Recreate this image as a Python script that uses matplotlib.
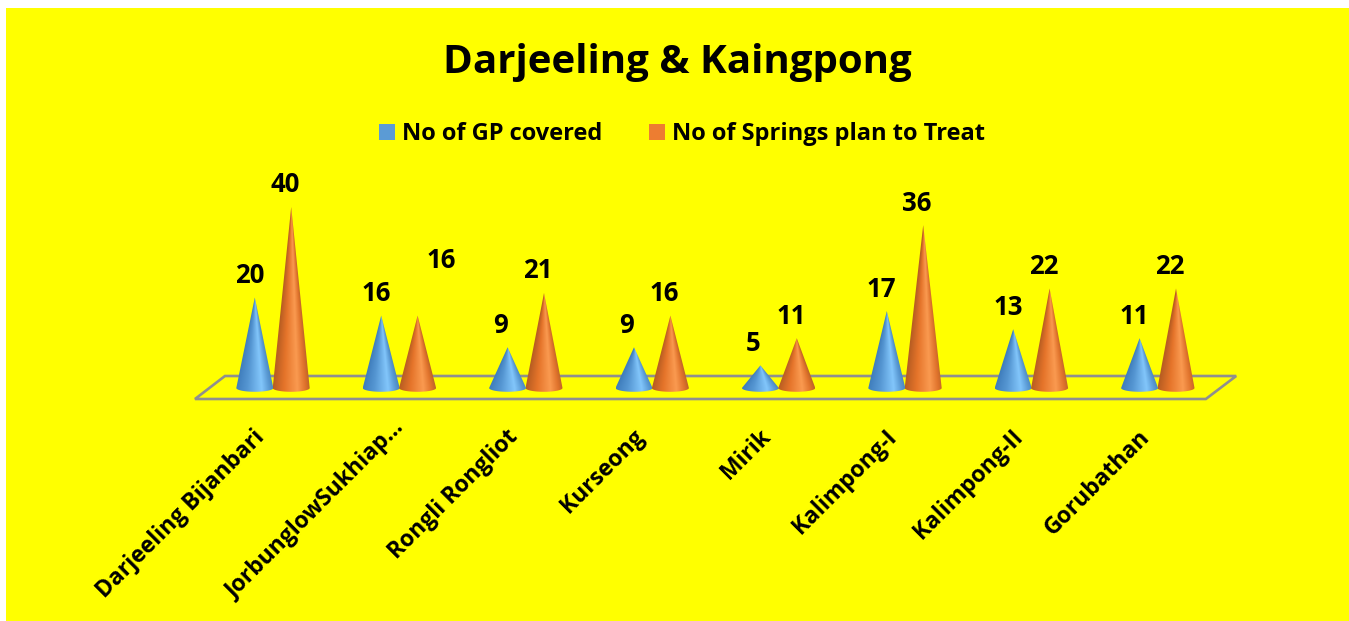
import matplotlib
matplotlib.use("Agg")
import matplotlib.pyplot as plt
import numpy as np
from matplotlib.colors import LinearSegmentedColormap
from matplotlib.patches import Patch, Polygon, Rectangle
from matplotlib.transforms import ScaledTranslation

plt.rcParams['font.family'] = ['Open Sans', 'DejaVu Sans']
plt.rcParams['font.weight'] = 'bold'

# data
blocks = ["Darjeeling Bijanbari", "JorbunglowSukhiap...", "Rongli Rongliot", "Kurseong",
          "Mirik", "Kalimpong-I", "Kalimpong-II", "Gorubathan"]
gp_covered = [20, 16, 9, 9, 5, 17, 13, 11]
springs_plan = [40, 16, 21, 16, 11, 36, 22, 22]
series_names = ["No of GP covered", "No of Springs plan to Treat"]

W, H = 1349, 621
PX_X = 126.4  # pixels per category
PX_Y = 4.525  # pixels per unit
BASE_Y = 388  # pixel row of value 0

blue_cmap = LinearSegmentedColormap.from_list(
    "b", [(0, "#3f7dbc"), (0.3, "#5596d2"), (0.68, "#82c6fb"), (0.88, "#5a9ad4"), (1, "#4a86be")])
orange_cmap = LinearSegmentedColormap.from_list(
    "o", [(0, "#b85d22"), (0.3, "#e5742a"), (0.66, "#fa9a50"), (0.88, "#e0732c"), (1, "#bf6428")])

fig = plt.figure(figsize=(W / 100, H / 100), dpi=100, facecolor="white")
fig.add_artist(Rectangle((6 / W, 0), (W - 6) / W, (H - 8) / H, transform=fig.transFigure,
                         facecolor="#ffff00", edgecolor="none", zorder=-5))

left = 273 - PX_X / 2
y_low, y_high = -2.65, 41
ax = fig.add_axes([left / W, 1 - (BASE_Y - y_low * PX_Y) / H, 8 * PX_X / W, (y_high - y_low) * PX_Y / H])
ax.patch.set_alpha(0)
for s in ax.spines.values():
    s.set_visible(False)
ax.set_yticks([])

half_w = 18.5 / PX_X
semi_h = 3.8 / PX_Y


def draw_cone(xc, value, cmap):
    # shade across the cone so the gradient narrows towards the tip
    rows = np.linspace(-semi_h, value, 300)
    u = np.linspace(-1, 1, 120)
    U, V = np.meshgrid(u, rows)
    frac = np.clip(1 - V / value, 1e-3, 1)
    shade = (np.clip(U / frac, -1, 1) + 1) / 2
    t = np.linspace(np.pi, 2 * np.pi, 40)
    xs = xc + half_w * np.cos(t)
    ys = semi_h * np.sin(t)
    outline = np.column_stack([np.r_[xc, xs], np.r_[value, ys]])
    clip = Polygon(outline, closed=True, transform=ax.transData, facecolor="none", edgecolor="none")
    ax.add_patch(clip)
    ax.imshow(shade, cmap=cmap, origin="lower", aspect="auto", vmin=0, vmax=1,
              extent=[xc - half_w, xc + half_w, -semi_h, value], zorder=3, clip_path=clip)


x = np.arange(len(blocks))
offset = 18.2 / PX_X
for i in x:
    draw_cone(i - offset, gp_covered[i], blue_cmap)
    draw_cone(i + offset, springs_plan[i], orange_cmap)

# floor
floor = Polygon([(-0.617, -2.43), (7.38, -2.43), (7.62, 2.65), (-0.38, 2.65)], closed=True,
                facecolor="none", edgecolor="#8f8f8f", linewidth=1.9, clip_on=False, zorder=1)
ax.add_patch(floor)

ax.set_xlim(-0.5, 7.5)
ax.set_ylim(y_low, y_high)

# value labels
for i in x:
    dx = -7 if gp_covered[i] < 10 else -5
    ax.annotate(str(gp_covered[i]), (i - offset, gp_covered[i]), xytext=(dx, 22), textcoords="offset pixels",
                ha="center", va="center", fontsize=18.5, fontweight="bold", color="black")
    extra = (24, 55) if i == 1 else (-6, 22)
    ax.annotate(str(springs_plan[i]), (i + offset, springs_plan[i]), xytext=extra, textcoords="offset pixels",
                ha="center", va="center", fontsize=18.5, fontweight="bold", color="black")

ax.set_xticks(x)
ax.set_xticklabels(blocks, rotation=45, ha="right", rotation_mode="anchor", fontsize=16.5, fontweight="bold")
ax.tick_params(axis="x", length=0, pad=18)
for i, lab in enumerate(ax.get_xticklabels()):
    # the truncated second label sits further along its slant
    dx, dy = (-7, 9) if i == 1 else (-20, 0)
    lab.set_transform(lab.get_transform() + ScaledTranslation(dx / 100, dy / 100, fig.dpi_scale_trans))

fig.text(677 / W, 1 - 63 / H, "Darjeeling & Kaingpong", ha="center", va="center", fontsize=29, fontweight="bold")

handles = [Patch(facecolor="#5b9bd5"), Patch(facecolor="#ed7d31")]
fig.legend(handles, series_names, loc="center", bbox_to_anchor=(682 / W, 1 - 134 / H), ncol=2, frameon=False,
           prop={"size": 17, "weight": "bold"}, handlelength=0.68, handleheight=0.68,
           handletextpad=0.3, columnspacing=2.0, borderpad=0)

fig.savefig("out.png", dpi=100, facecolor=fig.get_facecolor())
